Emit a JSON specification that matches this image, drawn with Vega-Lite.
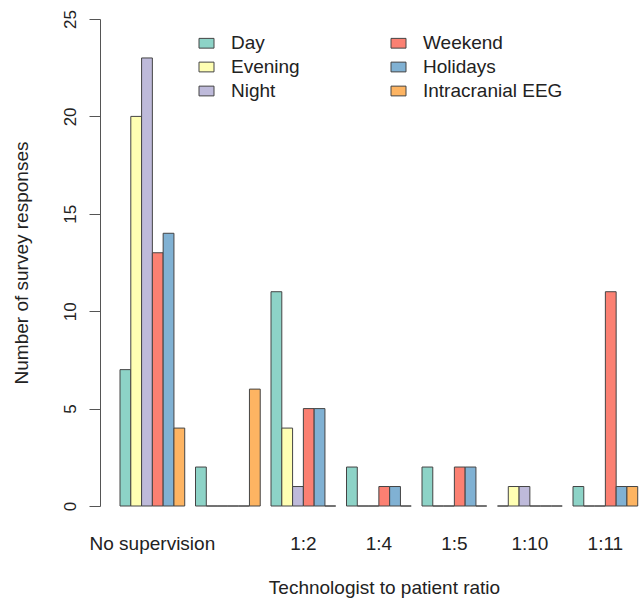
{
  "$schema": "https://vega.github.io/schema/vega-lite/v6.json",
  "width": 539,
  "height": 487,
  "autosize": {"type": "none"},
  "padding": {"left": 100, "top": 19, "right": 0, "bottom": 95},
  "background": "white",
  "config": {
    "view": {"stroke": null},
    "font": "Liberation Sans",
    "axis": {"grid": false, "labelFont": "Liberation Sans", "titleFont": "Liberation Sans", "labelColor": "#222", "titleColor": "#222", "titleFontWeight": "normal"}
  },
  "data": {
    "values": [
      {"ratio": "No supervision", "shift": "Day", "count": 7},
      {"ratio": "No supervision", "shift": "Evening", "count": 20},
      {"ratio": "No supervision", "shift": "Night", "count": 23},
      {"ratio": "No supervision", "shift": "Weekend", "count": 13},
      {"ratio": "No supervision", "shift": "Holidays", "count": 14},
      {"ratio": "No supervision", "shift": "Intracranial EEG", "count": 4},
      {"ratio": "1:1", "shift": "Day", "count": 2},
      {"ratio": "1:1", "shift": "Evening", "count": 0},
      {"ratio": "1:1", "shift": "Night", "count": 0},
      {"ratio": "1:1", "shift": "Weekend", "count": 0},
      {"ratio": "1:1", "shift": "Holidays", "count": 0},
      {"ratio": "1:1", "shift": "Intracranial EEG", "count": 6},
      {"ratio": "1:2", "shift": "Day", "count": 11},
      {"ratio": "1:2", "shift": "Evening", "count": 4},
      {"ratio": "1:2", "shift": "Night", "count": 1},
      {"ratio": "1:2", "shift": "Weekend", "count": 5},
      {"ratio": "1:2", "shift": "Holidays", "count": 5},
      {"ratio": "1:2", "shift": "Intracranial EEG", "count": 0},
      {"ratio": "1:4", "shift": "Day", "count": 2},
      {"ratio": "1:4", "shift": "Evening", "count": 0},
      {"ratio": "1:4", "shift": "Night", "count": 0},
      {"ratio": "1:4", "shift": "Weekend", "count": 1},
      {"ratio": "1:4", "shift": "Holidays", "count": 1},
      {"ratio": "1:4", "shift": "Intracranial EEG", "count": 0},
      {"ratio": "1:5", "shift": "Day", "count": 2},
      {"ratio": "1:5", "shift": "Evening", "count": 0},
      {"ratio": "1:5", "shift": "Night", "count": 0},
      {"ratio": "1:5", "shift": "Weekend", "count": 2},
      {"ratio": "1:5", "shift": "Holidays", "count": 2},
      {"ratio": "1:5", "shift": "Intracranial EEG", "count": 0},
      {"ratio": "1:10", "shift": "Day", "count": 0},
      {"ratio": "1:10", "shift": "Evening", "count": 1},
      {"ratio": "1:10", "shift": "Night", "count": 1},
      {"ratio": "1:10", "shift": "Weekend", "count": 0},
      {"ratio": "1:10", "shift": "Holidays", "count": 0},
      {"ratio": "1:10", "shift": "Intracranial EEG", "count": 0},
      {"ratio": "1:11", "shift": "Day", "count": 1},
      {"ratio": "1:11", "shift": "Evening", "count": 0},
      {"ratio": "1:11", "shift": "Night", "count": 0},
      {"ratio": "1:11", "shift": "Weekend", "count": 11},
      {"ratio": "1:11", "shift": "Holidays", "count": 1},
      {"ratio": "1:11", "shift": "Intracranial EEG", "count": 1}
    ]
  },
  "mark": {"type": "bar", "stroke": "#444", "strokeWidth": 1},
  "encoding": {
    "x": {
      "field": "ratio",
      "type": "nominal",
      "scale": {"domain": ["No supervision", "1:1", "1:2", "1:4", "1:5", "1:10", "1:11"], "paddingInner": 0.142857, "paddingOuter": 0.141, "align": 0.94},
      "axis": {
        "title": "Technologist to patient ratio",
        "domain": false,
        "ticks": false,
        "tickSize": 0,
        "labelAngle": 0,
        "labelFontSize": 19,
        "labelBaseline": "alphabetic",
        "labelPadding": 43,
        "labelExpr": "datum.value == '1:1' ? '' : datum.label",
        "titleFontSize": 19,
        "titleBaseline": "alphabetic",
        "titleY": 87,
        "titleX": 284
      }
    },
    "xOffset": {
      "field": "shift",
      "type": "nominal",
      "scale": {"domain": ["Day", "Evening", "Night", "Weekend", "Holidays", "Intracranial EEG"], "paddingInner": 0, "paddingOuter": 0}
    },
    "y": {
      "field": "count",
      "type": "quantitative",
      "scale": {"domain": [0, 25], "nice": false},
      "axis": {
        "title": "Number of survey responses",
        "values": [0, 5, 10, 15, 20, 25],
        "domainColor": "#555",
        "tickColor": "#555",
        "tickSize": 11,
        "labelAngle": 270,
        "labelAlign": "center",
        "labelBaseline": "bottom",
        "labelPadding": 10,
        "labelFontSize": 17,
        "titleFontSize": 19,
        "titleAngle": 270,
        "titleBaseline": "alphabetic",
        "titleX": -73,
        "titleY": 243.5
      }
    },
    "color": {
      "field": "shift",
      "type": "nominal",
      "scale": {
        "domain": ["Day", "Evening", "Night", "Weekend", "Holidays", "Intracranial EEG"],
        "range": ["#8DD3C7", "#FFFFB3", "#BEBADA", "#FB8072", "#80B1D3", "#FDB462"]
      },
      "legend": {
        "title": null,
        "orient": "none",
        "legendX": 97,
        "legendY": 14.5,
        "columns": 2,
        "columnPadding": 89,
        "rowPadding": 4,
        "padding": 0,
        "symbolType": "M-1,-0.65H1V0.65H-1Z",
        "symbolSize": 225,
        "symbolStrokeColor": "#444",
        "symbolStrokeWidth": 1,
        "symbolOpacity": 1,
        "labelFontSize": 19,
        "labelFont": "Liberation Sans",
        "labelColor": "#222",
        "labelOffset": 15
      }
    }
  }
}
